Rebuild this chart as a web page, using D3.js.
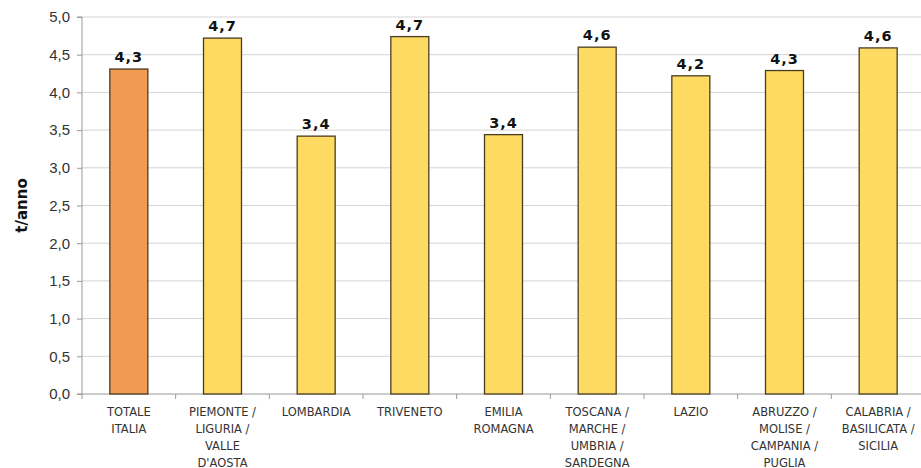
<!DOCTYPE html>
<html>
<head>
<meta charset="utf-8">
<script src="https://cdn.jsdelivr.net/npm/d3@7"></script>
<style>
body { margin: 0; background: #fff; }
svg { display: block; font-family: "DejaVu Sans", Verdana, sans-serif; }
</style>
</head>
<body>
<div id="chart"></div>
<script>
var categories = [
	["TOTALE", "ITALIA"],
	["PIEMONTE /", "LIGURIA /", "VALLE", "D'AOSTA"],
	["LOMBARDIA"],
	["TRIVENETO"],
	["EMILIA", "ROMAGNA"],
	["TOSCANA /", "MARCHE /", "UMBRIA /", "SARDEGNA"],
	["LAZIO"],
	["ABRUZZO /", "MOLISE /", "CAMPANIA /", "PUGLIA"],
	["CALABRIA /", "BASILICATA /", "SICILIA"]
];
var values = [4.31, 4.72, 3.42, 4.74, 3.44, 4.60, 4.22, 4.29, 4.59];
var yTicks = [0, 0.5, 1, 1.5, 2, 2.5, 3, 3.5, 4, 4.5, 5];

var svgWidth = 921;
var svgHeight = 468;
var margin = { top: 17, left: 82, bottom: 74 };
var plotRight = 925;
var plotBottom = svgHeight - margin.bottom;

var svg = d3.select("#chart").append("svg").attr("width", svgWidth).attr("height", svgHeight);

var x = d3.scaleBand().domain(d3.range(categories.length)).range([margin.left, plotRight]).padding(0);
var y = d3.scaleLinear().domain([0, 5]).range([plotBottom, margin.top]);

var fmt = function(v) { return d3.format(".1f")(v).replace(".", ","); };

// gridlines
svg.append("g").selectAll("line").data(yTicks.slice(1)).enter().append("line")
	.attr("x1", margin.left).attr("x2", plotRight)
	.attr("y1", d => y(d)).attr("y2", d => y(d))
	.attr("stroke", "#d4d4d4").attr("stroke-width", 1);

// y axis
var leftAxis = d3.axisLeft(y).tickValues(yTicks).tickSize(5).tickPadding(7).tickFormat(fmt);
var gy = svg.append("g").attr("transform", `translate(${margin.left},0)`).call(leftAxis);
gy.select(".domain").attr("stroke", "#999").attr("d", `M-5,${plotBottom}H0V${margin.top}H-5`);
gy.selectAll(".tick line").attr("stroke", "#999");
gy.selectAll(".tick text").attr("fill", "#333").style("font-size", "15px");

// x axis
var gx = svg.append("g");
gx.append("line").attr("x1", margin.left).attr("x2", plotRight)
	.attr("y1", plotBottom).attr("y2", plotBottom).attr("stroke", "#999");
gx.selectAll(".xt").data(d3.range(categories.length + 1)).enter().append("line").attr("class", "xt")
	.attr("x1", d => margin.left + d * x.step()).attr("x2", d => margin.left + d * x.step())
	.attr("y1", plotBottom).attr("y2", plotBottom + 5).attr("stroke", "#999");

var labels = gx.selectAll(".xl").data(categories).enter().append("text").attr("class", "xl")
	.attr("x", (d, i) => x(i) + x.bandwidth() / 2).attr("y", plotBottom + 22)
	.attr("text-anchor", "middle").attr("fill", "#333").style("font-size", "11.5px");
labels.selectAll("tspan").data(d => d).enter().append("tspan")
	.attr("x", function() { return this.parentNode.getAttribute("x"); })
	.attr("dy", (d, i) => i === 0 ? 0 : 17).text(d => d);

// bars
var barW = 38;
svg.append("g").selectAll("rect").data(values).enter().append("rect")
	.attr("x", (d, i) => x(i) + x.bandwidth() / 2 - barW / 2)
	.attr("y", d => y(d)).attr("width", barW).attr("height", d => plotBottom - y(d))
	.attr("fill", (d, i) => i === 0 ? "#F09A52" : "#FDDA62")
	.attr("stroke", "#4a3c22").attr("stroke-width", 1.3);

// value labels
svg.append("g").selectAll("text").data(values).enter().append("text")
	.attr("x", (d, i) => x(i) + x.bandwidth() / 2).attr("y", d => y(d) - 7)
	.attr("text-anchor", "middle").attr("font-weight", "bold").attr("fill", "#111")
	.style("font-size", "14.5px").style("letter-spacing", "1px").text(d => fmt(d));

// y title
svg.append("text").attr("transform", `translate(27, ${(margin.top + plotBottom) / 2}) rotate(-90)`)
	.attr("text-anchor", "middle").attr("font-weight", "bold").attr("fill", "#111")
	.style("font-size", "15px").text("t/anno");
</script>
</body>
</html>
